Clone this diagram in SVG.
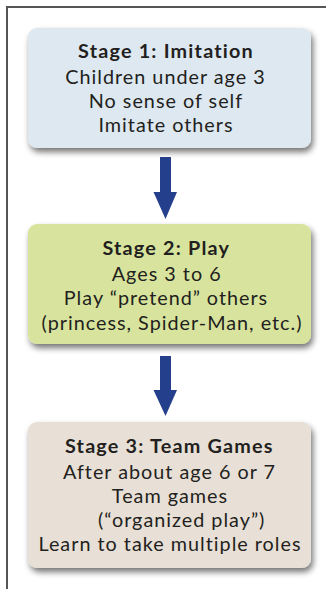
<svg xmlns="http://www.w3.org/2000/svg" width="326" height="589" viewBox="0 0 326 589">
  <defs>
    <filter id="shadow" x="-10%" y="-20%" width="125%" height="150%">
      <feGaussianBlur in="SourceAlpha" stdDeviation="3"/>
      <feOffset dx="2" dy="4" result="b"/>
      <feComponentTransfer><feFuncA type="linear" slope="0.55"/></feComponentTransfer>
      <feMerge><feMergeNode/><feMergeNode in="SourceGraphic"/></feMerge>
    </filter>
  </defs>
  <style>
    .frame { stroke: #555; stroke-width: 2; fill: none; }
    .box { stroke: none; filter: url(#shadow); }
    text { font-family: Lato, "Open Sans", "Liberation Sans", sans-serif; font-size: 19.8px; letter-spacing: 1px; fill: #231f20; text-anchor: middle; }
    .title { font-weight: bold; letter-spacing: 1.2px; }
    .arrow { fill: #243f8c; }
  </style>

  <!-- outer frame: top and left edges -->
  <path class="frame" d="M7 589 V7 H326"/>

  <g id="stage1">
    <rect class="box" x="28" y="28" width="283" height="120" rx="9" fill="#dde8f0"/>
    <text class="title" x="166" y="58">Stage 1: Imitation</text>
    <text x="165.5" y="84">Children under age 3</text>
    <text x="166" y="108">No sense of self</text>
    <text x="166" y="132">Imitate others</text>
  </g>

  <g id="stage2">
    <rect class="box" x="28" y="224" width="283" height="120" rx="9" fill="#d8e49e"/>
    <text class="title" x="166.3" y="255">Stage 2: Play</text>
    <text x="166.7" y="281">Ages 3 to 6</text>
    <text x="166" y="305">Play “pretend” others</text>
    <text x="172" y="330">(princess, Spider-Man, etc.)</text>
  </g>

  <g id="stage3">
    <rect class="box" x="28" y="422" width="283" height="146" rx="9" fill="#e8dfd6"/>
    <text class="title" x="169.3" y="452.5">Stage 3: Team Games</text>
    <text x="169.5" y="479">After about age 6 or 7</text>
    <text x="170" y="503">Team games</text>
    <text x="181.7" y="527">(“organized play”)</text>
    <text x="170" y="551">Learn to take multiple roles</text>
  </g>

  <g id="connectors">
    <path class="arrow" d="M160 157 H171 V192 H177 L165.5 219 L153.5 192 H160 Z"/>
    <path class="arrow" d="M160 356 H171 V390 H177 L165.5 416 L153.5 390 H160 Z"/>
  </g>
</svg>
